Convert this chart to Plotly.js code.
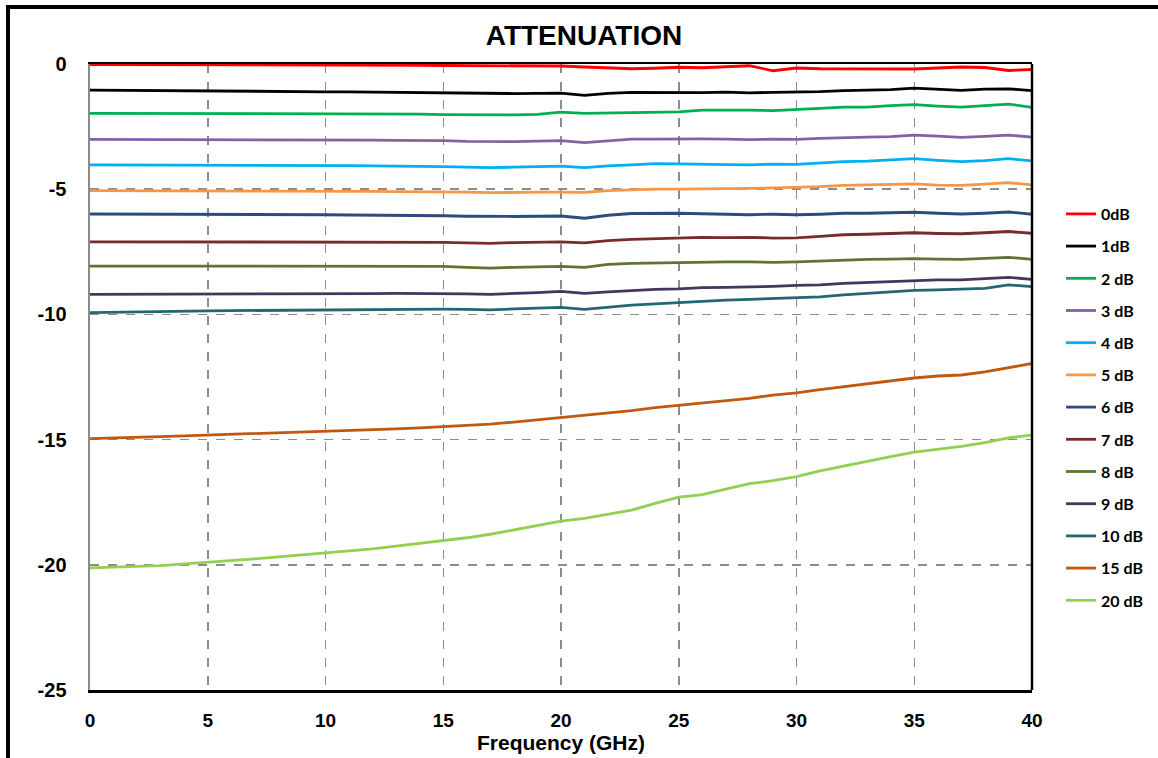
<!DOCTYPE html>
<html>
<head>
<meta charset="utf-8">
<script src="https://cdn.plot.ly/plotly-3.0.1.min.js"></script>
<style>
  html, body { margin: 0; padding: 0; background: #fff; }
  #chart { width: 1158px; height: 758px; position: relative; }
  #frame { position: absolute; left: 6px; top: 5px; width: 1300px; height: 900px;
           border-top: 4px solid #000; border-left: 4px solid #000; pointer-events: none; z-index: 10; }
</style>
</head>
<body>
<div id="chart"></div>
<div id="frame"></div>
<script>
const freq = [0,1,2,3,4,5,6,7,8,9,10,11,12,13,14,15,16,17,18,19,20,21,22,23,24,25,26,27,28,29,30,31,32,33,34,35,36,37,38,39,40];

const att0dB = [-0.02,-0.02,-0.02,-0.03,-0.03,-0.04,-0.03,-0.03,-0.03,-0.04,-0.04,-0.04,-0.05,-0.05,-0.05,-0.06,-0.06,-0.07,-0.07,-0.08,-0.08,-0.12,-0.15,-0.19,-0.17,-0.13,-0.15,-0.10,-0.07,-0.27,-0.16,-0.19,-0.20,-0.18,-0.19,-0.20,-0.16,-0.12,-0.14,-0.26,-0.22];
const att1dB = [-1.04,-1.05,-1.06,-1.07,-1.08,-1.09,-1.09,-1.09,-1.10,-1.10,-1.11,-1.11,-1.12,-1.13,-1.14,-1.14,-1.17,-1.19,-1.18,-1.17,-1.16,-1.25,-1.17,-1.13,-1.14,-1.13,-1.14,-1.12,-1.15,-1.13,-1.12,-1.10,-1.06,-1.04,-1.02,-0.96,-1.00,-1.05,-1.00,-0.99,-1.06];
const att2dB = [-1.97,-1.97,-1.97,-1.98,-1.98,-1.98,-1.98,-1.98,-1.98,-1.98,-1.98,-1.99,-1.99,-1.99,-2.00,-2.02,-2.03,-2.05,-2.03,-2.01,-1.92,-1.97,-1.96,-1.95,-1.93,-1.91,-1.84,-1.83,-1.84,-1.86,-1.83,-1.77,-1.72,-1.72,-1.66,-1.62,-1.68,-1.72,-1.66,-1.60,-1.73];
const att3dB = [-3.01,-3.01,-3.01,-3.02,-3.02,-3.02,-3.03,-3.03,-3.03,-3.03,-3.04,-3.04,-3.04,-3.05,-3.05,-3.06,-3.09,-3.11,-3.10,-3.08,-3.06,-3.14,-3.08,-3.00,-3.00,-2.98,-2.99,-3.00,-3.02,-3.00,-3.01,-2.97,-2.93,-2.92,-2.90,-2.84,-2.88,-2.93,-2.89,-2.84,-2.92];
const att4dB = [-4.03,-4.03,-4.03,-4.04,-4.04,-4.04,-4.05,-4.05,-4.05,-4.06,-4.06,-4.06,-4.07,-4.07,-4.08,-4.10,-4.12,-4.14,-4.12,-4.10,-4.08,-4.14,-4.07,-4.03,-3.98,-3.99,-3.99,-4.02,-4.03,-4.00,-4.01,-3.95,-3.90,-3.88,-3.84,-3.78,-3.85,-3.90,-3.86,-3.78,-3.87];
const att5dB = [-5.06,-5.06,-5.06,-5.07,-5.07,-5.07,-5.07,-5.08,-5.08,-5.08,-5.09,-5.09,-5.09,-5.10,-5.10,-5.12,-5.12,-5.14,-5.12,-5.12,-5.12,-5.13,-5.06,-5.02,-5.00,-5.00,-5.00,-4.99,-4.97,-4.95,-4.94,-4.90,-4.85,-4.84,-4.82,-4.79,-4.84,-4.85,-4.80,-4.74,-4.83];
const att6dB = [-5.99,-5.99,-6.00,-6.00,-6.00,-6.01,-6.01,-6.01,-6.02,-6.02,-6.02,-6.03,-6.03,-6.03,-6.04,-6.06,-6.08,-6.10,-6.09,-6.08,-6.07,-6.16,-6.04,-5.97,-5.96,-5.96,-5.98,-6.00,-6.02,-6.00,-6.02,-6.00,-5.96,-5.96,-5.95,-5.92,-5.96,-5.99,-5.96,-5.91,-6.00];
const att7dB = [-7.10,-7.10,-7.10,-7.10,-7.10,-7.10,-7.10,-7.10,-7.11,-7.11,-7.11,-7.11,-7.11,-7.11,-7.11,-7.12,-7.14,-7.16,-7.13,-7.12,-7.10,-7.14,-7.05,-7.00,-6.97,-6.93,-6.92,-6.93,-6.92,-6.95,-6.94,-6.88,-6.82,-6.80,-6.77,-6.74,-6.77,-6.78,-6.74,-6.69,-6.76];
const att8dB = [-8.07,-8.07,-8.07,-8.07,-8.07,-8.07,-8.07,-8.07,-8.07,-8.07,-8.07,-8.08,-8.08,-8.08,-8.08,-8.08,-8.12,-8.15,-8.12,-8.10,-8.08,-8.12,-8.00,-7.96,-7.94,-7.93,-7.91,-7.90,-7.90,-7.92,-7.90,-7.86,-7.82,-7.80,-7.79,-7.77,-7.79,-7.80,-7.76,-7.72,-7.80];
const att9dB = [-9.20,-9.20,-9.19,-9.19,-9.19,-9.19,-9.18,-9.18,-9.18,-9.18,-9.17,-9.17,-9.17,-9.16,-9.16,-9.16,-9.18,-9.20,-9.17,-9.13,-9.08,-9.16,-9.10,-9.04,-9.00,-8.98,-8.93,-8.92,-8.91,-8.88,-8.84,-8.82,-8.76,-8.72,-8.68,-8.64,-8.62,-8.62,-8.58,-8.52,-8.60];
const att10dB = [-9.93,-9.91,-9.90,-9.89,-9.88,-9.86,-9.85,-9.84,-9.83,-9.83,-9.82,-9.82,-9.81,-9.80,-9.80,-9.79,-9.80,-9.82,-9.78,-9.74,-9.72,-9.80,-9.70,-9.63,-9.58,-9.53,-9.46,-9.43,-9.40,-9.36,-9.33,-9.30,-9.22,-9.16,-9.10,-9.04,-9.02,-9.00,-8.96,-8.82,-8.89];
const att15dB = [-14.96,-14.94,-14.91,-14.88,-14.85,-14.82,-14.80,-14.77,-14.73,-14.70,-14.67,-14.64,-14.61,-14.57,-14.53,-14.49,-14.43,-14.38,-14.30,-14.21,-14.12,-14.04,-13.93,-13.84,-13.72,-13.63,-13.53,-13.45,-13.35,-13.22,-13.13,-13.00,-12.88,-12.75,-12.63,-12.54,-12.46,-12.42,-12.30,-12.12,-11.96];
const att20dB = [-20.12,-20.10,-20.07,-20.03,-19.96,-19.90,-19.83,-19.76,-19.68,-19.60,-19.53,-19.45,-19.36,-19.25,-19.14,-19.04,-18.92,-18.78,-18.60,-18.43,-18.26,-18.15,-18.00,-17.82,-17.55,-17.30,-17.20,-16.98,-16.76,-16.64,-16.48,-16.25,-16.05,-15.85,-15.68,-15.50,-15.38,-15.27,-15.12,-14.93,-14.82];

const seriesNames = ['0dB','1dB','2 dB','3 dB','4 dB','5 dB','6 dB','7 dB','8 dB','9 dB','10 dB','15 dB','20 dB'];
const seriesValues = [att0dB, att1dB, att2dB, att3dB, att4dB, att5dB, att6dB, att7dB, att8dB, att9dB, att10dB, att15dB, att20dB];
const seriesColors = ['#FF0000','#000000','#00B050','#8064A2','#00B0F0','#F79646','#2B4C7E','#772C2A','#5E7432','#45365E','#246673','#C0580F','#92D050'];

const xTicks = [0,5,10,15,20,25,30,35,40];
const yTicks = [0,-5,-10,-15,-20,-25];

const traces = seriesNames.map((n, i) => ({
  type: 'scatter', mode: 'lines', name: n, x: freq, y: seriesValues[i],
  legendgroup: 'g' + i,
  line: { color: seriesColors[i], width: 2.8, shape: 'linear' }
}));

const F = 'Liberation Sans, Arial, sans-serif';

const layout = {
  width: 1158, height: 758,
  margin: { l: 90, r: 126, t: 64, b: 68, autoexpand: false },
  paper_bgcolor: '#fff', plot_bgcolor: '#fff',
  title: { text: '<b>ATTENUATION</b>', font: { family: F, size: 28, color: '#000' },
           x: 584/1158, xref: 'container', y: 1 - 35/758, yref: 'container', yanchor: 'middle', xanchor: 'center' },
  showlegend: true,
  legend: {
    xref: 'container', yref: 'container', x: 1061/1158, y: 1 - 197/758,
    xanchor: 'left', yanchor: 'top', maxheight: 700,
    font: { family: 'Lato, Carlito, sans-serif', size: 16, color: '#000', weight: 'bold' },
    tracegroupgap: 8.4, bgcolor: 'rgba(0,0,0,0)', borderwidth: 0, itemwidth: 30
  },
  xaxis: {
    range: [0, 40], tickvals: xTicks, ticktext: xTicks.map(String),
    showgrid: true, gridcolor: '#8c8c8c', griddash: 'dash', gridwidth: 1.5,
    showline: true, linecolor: '#000', linewidth: 2.5, mirror: true,
    zeroline: false, ticks: '', ticklabelstandoff: 12,
    tickfont: { family: F, size: 19, color: '#000', weight: 'bold' },
    title: { text: '<b>Frequency (GHz)</b>', font: { family: F, size: 21, color: '#000' }, standoff: 5 }
  },
  yaxis: {
    range: [-25, 0], tickvals: yTicks, ticktext: yTicks.map(String),
    showgrid: true, gridcolor: '#8c8c8c', griddash: 'dash', gridwidth: 1.5,
    showline: true, linecolor: '#8a8a8a', linewidth: 2.5, mirror: false,
    zeroline: false, ticks: '', ticklabelstandoff: 17,
    tickfont: { family: F, size: 20, color: '#000', weight: 'bold' }
  },
  annotations: [
    { text: '<b>Attenuation\u00a0\u00a0(dB)</b>', xref: 'container', yref: 'container',
      x: 25/1158, y: 1 - 367/758, xanchor: 'center', yanchor: 'middle', textangle: -90,
      showarrow: false, font: { family: F, size: 26, color: '#000' } }
  ],
  shapes: [
    { type: 'line', xref: 'paper', yref: 'paper', x0: 1, x1: 1, y0: 0, y1: 1,
      line: { color: '#000', width: 2.5 }, layer: 'above' }
  ]
};

Plotly.newPlot('chart', traces, layout, { displayModeBar: false, staticPlot: true });
</script>
</body>
</html>
